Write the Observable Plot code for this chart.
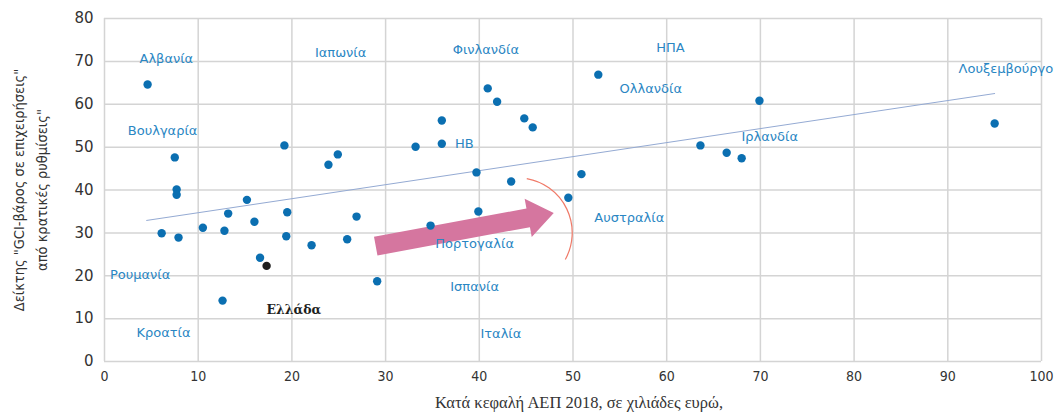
<!DOCTYPE html>
<html>
<head>
<meta charset="utf-8">
<script src="https://cdn.jsdelivr.net/npm/d3@7"></script>
<script src="https://cdn.jsdelivr.net/npm/@observablehq/plot@0.6"></script>
<style>
  html, body { margin: 0; padding: 0; background: #fff; }
  #chart svg { display: block; }
</style>
</head>
<body>
<div id="chart"></div>
<script>
// GDP per capita 2018 (thousand €) and GCI "burden of government regulation" index
const gdp = [4.6, 7.5, 7.7, 7.7, 6.1, 7.9, 10.5, 12.8, 13.2, 15.2, 16.0, 16.6, 12.6, 19.2, 19.5, 19.4, 22.1, 23.9, 24.9, 26.9, 25.9, 29.1, 33.2, 36.0, 36.0, 34.8, 39.7, 39.9, 40.9, 41.9, 43.4, 44.8, 45.7, 49.5, 50.9, 52.7, 63.6, 66.4, 68.0, 69.9, 95.0];
const gci = [64.6, 47.6, 40.1, 38.9, 29.9, 28.9, 31.2, 30.5, 34.5, 37.7, 32.6, 24.2, 14.2, 50.4, 34.8, 29.2, 27.1, 45.9, 48.3, 33.8, 28.5, 18.7, 50.1, 56.2, 50.8, 31.7, 44.1, 35.0, 63.7, 60.6, 42.0, 56.7, 54.6, 38.2, 43.7, 66.9, 50.4, 48.7, 47.4, 60.8, 55.5];

const greeceName = "Ελλάδα";
const greeceGdp = [17.3];
const greeceGci = [22.3];
const greeceLabelX = [20.2];
const greeceLabelY = [11.9];

const labelNames = ["Αλβανία", "Ιαπωνία", "Φινλανδία", "ΗΠΑ", "Λουξεμβούργο", "Ολλανδία", "Βουλγαρία", "ΗΒ", "Ιρλανδία", "Αυστραλία", "Πορτογαλία", "Ρουμανία", "Ισπανία", "Κροατία", "Ιταλία"];
const labelX = [6.6, 25.2, 40.7, 60.4, 96.2, 58.3, 6.2, 38.4, 71.0, 56.0, 39.5, 3.8, 39.5, 6.3, 42.3];
const labelY = [70.7, 72.1, 72.8, 73.2, 68.3, 63.7, 53.9, 50.8, 52.5, 33.6, 27.5, 20.1, 17.3, 6.8, 6.5];

// linear trend line end points
const trendX = [4.5, 95.0];
const trendY = [32.9, 62.5];

// annotation: arrow (tail -> tip) and arc (centre), in data units
const arrowX = [29.0, 48.0];
const arrowY = [26.8, 34.5];
const arcCenterX = [44.1];
const arcCenterY = [29.9];

const xTicks = [0, 10, 20, 30, 40, 50, 60, 70, 80, 90, 100];
const yTicks = [0, 10, 20, 30, 40, 50, 60, 70, 80];

const xTitle = "Κατά κεφαλή ΑΕΠ 2018, σε χιλιάδες ευρώ,";
const yTitle = "Δείκτης \"GCI-βάρος σε επιχειρήσεις\"\nαπό κρατικές ρυθμίσεις\"";

const points = gdp.map((x, i) => ({x, y: gci[i]}));
const labels = labelNames.map((name, i) => ({name, x: labelX[i], y: labelY[i]}));
const greece = [{name: greeceName, x: greeceGdp[0], y: greeceGci[0], lx: greeceLabelX[0], ly: greeceLabelY[0]}];
const trend = trendX.map((x, i) => ({x, y: trendY[i]}));

function annotation(index, scales) {
  const sx = scales.x, sy = scales.y;
  const g = d3.create("svg:g");
  // fat arrow polygon
  const x1 = sx(arrowX[0]), y1 = sy(arrowY[0]);
  const x2 = sx(arrowX[1]), y2 = sy(arrowY[1]);
  const len = Math.hypot(x2 - x1, y2 - y1);
  const ux = (x2 - x1) / len, uy = (y2 - y1) / len;
  const nx = -uy, ny = ux;
  const shaft = 9.5, head = 19.5, headLen = 26;
  const bx = x2 - ux * headLen, by = y2 - uy * headLen;
  const pts = [
    [x1 + nx * shaft, y1 + ny * shaft],
    [bx + nx * shaft, by + ny * shaft],
    [bx + nx * head, by + ny * head],
    [x2, y2],
    [bx - nx * head, by - ny * head],
    [bx - nx * shaft, by - ny * shaft],
    [x1 - nx * shaft, y1 - ny * shaft]
  ];
  g.append("path")
    .attr("d", "M" + pts.map(p => p.join(",")).join("L") + "Z")
    .attr("fill", "#d5769f");
  // arc
  const cx = sx(arcCenterX[0]), cy = sy(arcCenterY[0]);
  const r = 55;
  const a0 = -80 * Math.PI / 180, a1 = 29 * Math.PI / 180;
  g.append("path")
    .attr("d", `M${cx + r * Math.cos(a0)},${cy + r * Math.sin(a0)} A${r},${r} 0 0 1 ${cx + r * Math.cos(a1)},${cy + r * Math.sin(a1)}`)
    .attr("fill", "none")
    .attr("stroke", "#f07a68")
    .attr("stroke-width", 1.2);
  return g.node();
}

const chart = Plot.plot({
  width: 1056,
  height: 414,
  marginLeft: 104,
  marginRight: 15,
  marginTop: 18,
  marginBottom: 53,
  style: {fontFamily: "DejaVu Sans, sans-serif", background: "#fff"},
  x: {domain: [0, 100], ticks: xTicks, label: null},
  y: {domain: [0, 80], ticks: yTicks, label: null},
  marks: [
    Plot.gridX(xTicks, {stroke: "#d4d4d4", strokeOpacity: 1, strokeWidth: 1.5}),
    Plot.gridY(yTicks, {stroke: "#d4d4d4", strokeOpacity: 1, strokeWidth: 1.5}),
    Plot.axisX(xTicks, {tickSize: 0, tickPadding: 10, fontSize: 14, fill: "#333", fontFamily: "DejaVu Sans Condensed, DejaVu Sans, sans-serif", fontStretch: "condensed", label: null}),
    Plot.axisY(yTicks, {tickSize: 0, tickPadding: 11, fontSize: 15, fill: "#333", label: null}),
    Plot.line(trend, {x: "x", y: "y", stroke: "#94aad3", strokeWidth: 1}),
    annotation,
    Plot.dot(points, {x: "x", y: "y", r: 4.2, fill: "#0b6fb1", stroke: "none"}),
    Plot.dot(greece, {x: "x", y: "y", r: 4.2, fill: "#1e1e1e", stroke: "none"}),
    Plot.text(labels, {x: "x", y: "y", text: "name", fill: "#2a86c3", fontSize: 13, fontFamily: "DejaVu Sans, sans-serif"}),
    Plot.text(greece, {x: "lx", y: "ly", text: "name", fill: "#1e1e1e", fontSize: 12.5, fontWeight: "bold", fontFamily: "DejaVu Serif, serif"}),
    Plot.text([yTitle], {text: d => d, frameAnchor: "left", textAnchor: "middle", dx: -76, rotate: -90, fontSize: 14.5, lineHeight: 1.55, fill: "#333", fontFamily: "Liberation Sans Narrow, DejaVu Sans Condensed, sans-serif"}),
    Plot.text([xTitle], {text: d => d, frameAnchor: "bottom", dx: 6, dy: 46, fontSize: 16.5, fill: "#333", fontFamily: "Liberation Serif, serif"})
  ]
});
document.getElementById("chart").appendChild(chart);
</script>
</body>
</html>
